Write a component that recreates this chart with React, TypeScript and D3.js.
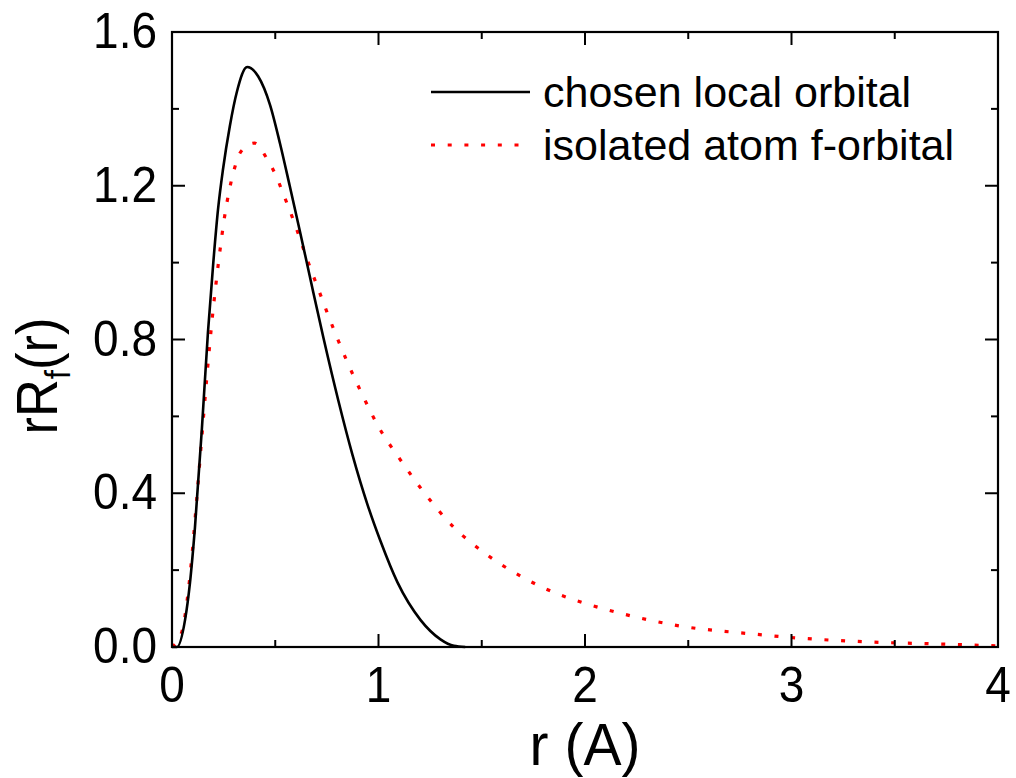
import * as d3 from "d3";

// chosen local orbital (black solid)
const rChosen = [0, 0.024, 0.063, 0.087, 0.111, 0.145, 0.174, 0.2, 0.223, 0.247, 0.28, 0.314, 0.364, 0.417, 0.475, 0.523, 0.57, 0.618, 0.667, 0.733, 0.806, 0.874, 0.947, 1.01, 1.092, 1.204, 1.3, 1.365, 1.42];
const fChosen = [0, 0, 0.07, 0.167, 0.31, 0.57, 0.818, 1.0, 1.139, 1.243, 1.355, 1.444, 1.509, 1.485, 1.41, 1.31, 1.2, 1.085, 0.965, 0.805, 0.64, 0.5, 0.37, 0.275, 0.168, 0.07, 0.02, 0.003, 0];

// isolated atom f-orbital (red dotted)
const rIsolated = [0, 0.048, 0.073, 0.097, 0.116, 0.145, 0.17, 0.193, 0.213, 0.232, 0.252, 0.28, 0.3, 0.335, 0.4, 0.46, 0.503, 0.536, 0.597, 0.653, 0.715, 0.75, 0.846, 0.923, 1.0, 1.106, 1.222, 1.362, 1.52, 1.686, 1.845, 2.01, 2.17, 2.33, 2.49, 2.65, 2.81, 2.97, 3.38, 3.7, 4.0];
const fIsolated = [0, 0.04, 0.12, 0.24, 0.36, 0.55, 0.71, 0.845, 0.945, 1.03, 1.11, 1.195, 1.24, 1.29, 1.311, 1.27, 1.227, 1.183, 1.097, 1.011, 0.922, 0.872, 0.745, 0.655, 0.573, 0.487, 0.401, 0.313, 0.242, 0.185, 0.143, 0.112, 0.088, 0.068, 0.052, 0.042, 0.034, 0.026, 0.013, 0.008, 0.003];

const xMajor = [0, 1, 2, 3, 4];
const xMinor = [0.5, 1.5, 2.5, 3.5];
const yMajor = [0, 0.4, 0.8, 1.2, 1.6];
const yMinor = [0.2, 0.6, 1.0, 1.4];

const legendLabels = ["chosen local orbital", "isolated atom f-orbital"];

const W = 1016;
const H = 778;
const left = 172, right = 998, top = 32, bottom = 647;
const font = "'Liberation Sans', Arial, sans-serif";

export default function App() {
  const x = d3.scaleLinear().domain([0, 4]).range([left, right]);
  const y = d3.scaleLinear().domain([0, 1.6]).range([bottom, top]);

  const line = d3.line<[number, number]>()
    .x(d => x(d[0]))
    .y(d => y(d[1]))
    .curve(d3.curveMonotoneX);

  const chosen = rChosen.map((r, i) => [r, fChosen[i]] as [number, number]);
  const isolated = rIsolated.map((r, i) => [r, fIsolated[i]] as [number, number]);

  const major = 13, minor = 7;

  return (
    <svg width={W} height={H} style={{ position: "absolute", left: 0, top: 0, background: "#fff" }}>
      <rect width={W} height={H} fill="#fff" />

      {/* curves */}
      <path d={line(isolated) ?? ""} fill="none" stroke="#ff0000" strokeWidth={3.2} strokeDasharray="4 12.7" />
      <path d={line(chosen) ?? ""} fill="none" stroke="#000" strokeWidth={2.6} />

      {/* frame */}
      <rect x={left} y={top} width={right - left} height={bottom - top} fill="none" stroke="#000" strokeWidth={2.2} />

      {/* ticks on all four sides */}
      <g stroke="#000" strokeWidth={2}>
        {xMajor.map(v => (
          <g key={"xm" + v}>
            <line x1={x(v)} x2={x(v)} y1={bottom} y2={bottom - major} />
            <line x1={x(v)} x2={x(v)} y1={top} y2={top + major} />
          </g>
        ))}
        {xMinor.map(v => (
          <g key={"xn" + v}>
            <line x1={x(v)} x2={x(v)} y1={bottom} y2={bottom - minor} />
            <line x1={x(v)} x2={x(v)} y1={top} y2={top + minor} />
          </g>
        ))}
        {yMajor.map(v => (
          <g key={"ym" + v}>
            <line x1={left} x2={left + major} y1={y(v)} y2={y(v)} />
            <line x1={right} x2={right - major} y1={y(v)} y2={y(v)} />
          </g>
        ))}
        {yMinor.map(v => (
          <g key={"yn" + v}>
            <line x1={left} x2={left + minor} y1={y(v)} y2={y(v)} />
            <line x1={right} x2={right - minor} y1={y(v)} y2={y(v)} />
          </g>
        ))}
      </g>

      {/* tick labels */}
      <g fontFamily={font} fontSize={46} fill="#000">
        {xMajor.map(v => (
          <text key={"xl" + v} transform={`translate(${x(v)},${bottom + 55}) scale(1,1.1)`} textAnchor="middle">
            {d3.format("d")(v)}
          </text>
        ))}
        {yMajor.map(v => (
          <text key={"yl" + v} transform={`translate(${left - 15},${y(v) + 16}) scale(1,1.1)`} textAnchor="end">
            {d3.format(".1f")(v)}
          </text>
        ))}
      </g>

      {/* axis titles */}
      <text transform={`translate(${(left + right) / 2},765) scale(1,1.05)`} textAnchor="middle"
        fontFamily={font} fontSize={57}>r (A)</text>
      <text transform={`translate(57,376) rotate(-90) scale(0.92,1)`} textAnchor="middle" fontFamily={font} fontSize={57}>
        rR<tspan fontSize={36} dy={13}>f</tspan><tspan dy={-13}>(r)</tspan>
      </text>

      {/* legend */}
      <g fontFamily={font} fontSize={43}>
        <line x1={431} x2={530} y1={92} y2={92} stroke="#000" strokeWidth={2.6} />
        <text x={543} y={107}>{legendLabels[0]}</text>
        <line x1={431} x2={530} y1={145} y2={145} stroke="#ff0000" strokeWidth={3.2} strokeDasharray="4 12.7" />
        <text x={543} y={160}>{legendLabels[1]}</text>
      </g>
    </svg>
  );
}
